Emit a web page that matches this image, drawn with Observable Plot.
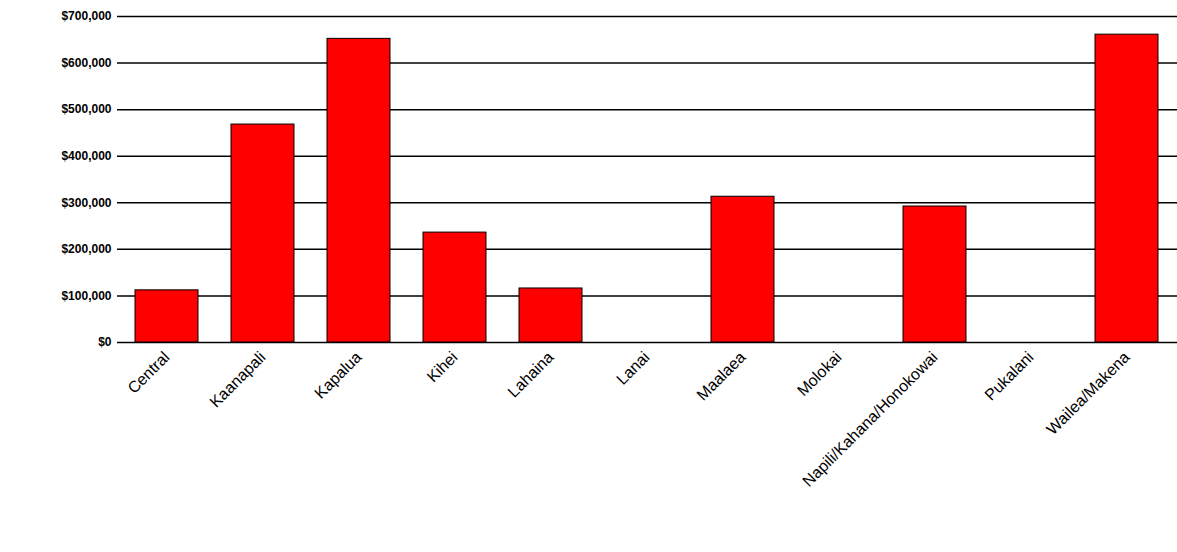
<!DOCTYPE html>
<html><head>
<script src="https://cdn.jsdelivr.net/npm/d3@7"></script>
<script src="https://cdn.jsdelivr.net/npm/@observablehq/plot@0.6"></script>
<style>body{margin:0;background:#fff;font-family:"Liberation Sans",Arial,sans-serif;}</style>
</head><body><div id="chart"></div>
<script>
const areas = ["Central","Kaanapali","Kapalua","Kihei","Lahaina","Lanai","Maalaea","Molokai","Napili/Kahana/Honokowai","Pukalani","Wailea/Makena"];
const values = [112000,468000,652000,236000,116000,0,313000,0,292000,0,661000];
const yTicks = [0,100000,200000,300000,400000,500000,600000,700000];

const data = areas.map((a, i) => ({area: a, value: values[i]}));
const bars = data.filter(d => d.value > 0);

const chart = Plot.plot({
  width: 1177, height: 552,
  marginLeft: 117, marginRight: 0, marginTop: 16, marginBottom: 210,
  style: {fontFamily: "Liberation Sans, Arial, sans-serif", fontSize: "13px", color: "#000"},
  x: {domain: areas, paddingInner: 0.34, paddingOuter: 0.15, label: null, tickSize: 0, tickRotate: -45},
  y: {domain: [0, 700000], ticks: yTicks, label: null, tickSize: 0,
      tickFormat: d => "$" + d3.format(",")(d)},
  marks: [
    Plot.ruleY(yTicks, {stroke: "#000", strokeWidth: 1.5}),
    Plot.barY(bars, {x: "area", y: "value", fill: "#ff0000", stroke: "#000", strokeWidth: 1}),
    Plot.axisY({ticks: yTicks, tickSize: 0, tickPadding: 6, fontWeight: "bold", fontSize: 12,
      tickFormat: d => "$" + d3.format(",")(d), style: {letterSpacing: "1.5px"}}),
    Plot.axisX({tickSize: 0, tickRotate: -45, tickPadding: 12, fontSize: 16})
  ]
});
document.getElementById("chart").append(chart);
</script></body></html>
